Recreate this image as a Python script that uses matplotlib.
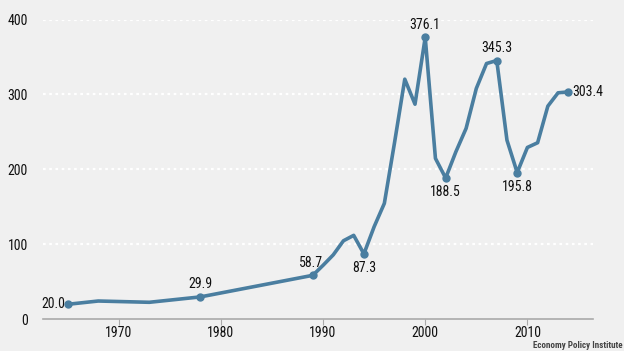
import matplotlib
matplotlib.use("Agg")
import matplotlib.pyplot as plt
from matplotlib import font_manager

years = [1965, 1968, 1973, 1978, 1989, 1990, 1991, 1992, 1993, 1994, 1995, 1996,
         1997, 1998, 1999, 2000, 2001, 2002, 2003, 2004, 2005, 2006, 2007, 2008,
         2009, 2010, 2011, 2012, 2013, 2014]
ratio = [20.0, 24.4, 22.7, 29.9, 58.7, 72.0, 86.0, 104.8, 112.0, 87.3, 123.5, 154.7,
         236.0, 320.4, 287.0, 376.1, 214.7, 188.5, 223.5, 254.7, 308.0, 341.3, 345.3, 239.0,
         195.8, 229.3, 235.6, 284.4, 302.2, 303.4]

label_years = [1965, 1978, 1989, 1994, 2000, 2002, 2007, 2009, 2014]
label_texts = ["20.0", "29.9", "58.7", "87.3", "376.1", "188.5", "345.3", "195.8", "303.4"]
label_pos = ["left", "above", "aboveleft", "below", "above", "below", "above", "below", "right"]

x_ticks = [1970, 1980, 1990, 2000, 2010]
y_ticks = [0, 100, 200, 300, 400]
source = "Economy Policy Institute"

names = {f.name for f in font_manager.fontManager.ttflist}
stretch = "normal"
fam = None
for cand in ["Liberation Sans Narrow", "Roboto Condensed", "Open Sans Condensed", "Noto Sans Condensed"]:
    if cand in names:
        fam = cand
        break
if fam is None:
    has_cond = any(f.name == "DejaVu Sans" and str(f.stretch) in ("condensed", "semi-condensed", "500", "400")
                   and "Condensed" in f.fname for f in font_manager.fontManager.ttflist)
    if has_cond:
        fam = "DejaVu Sans"
        stretch = "condensed"
    else:
        fam = "Roboto" if "Roboto" in names else "DejaVu Sans"
plt.rcParams["font.family"] = [fam, "DejaVu Sans"]
plt.rcParams["font.stretch"] = stretch

bg = "#f0f0f0"
line_c = "#4a7ea0"
txt_c = "#111111"
fs = 10

fig = plt.figure(figsize=(6.24, 3.51), dpi=100, facecolor=bg)
ax = fig.add_axes([0.069, 0.0903, 0.881, 0.8541], facecolor=bg)

ax.plot(years, ratio, color=line_c, lw=2.6, solid_joinstyle="round", zorder=3)
lv = [ratio[years.index(y)] for y in label_years]
ax.plot(label_years, lv, "o", color=line_c, ms=5, zorder=4)

for yr, v, t, p in zip(label_years, lv, label_texts, label_pos):
    kw = dict(textcoords="offset points", fontsize=fs, color=txt_c, annotation_clip=False)
    if p == "left":
        ax.annotate(t, (yr, v), xytext=(-2, 0), ha="right", va="center", **kw)
    elif p == "right":
        ax.annotate(t, (yr, v), xytext=(3, 0), ha="left", va="center", **kw)
    elif p == "above":
        ax.annotate(t, (yr, v), xytext=(0, 4), ha="center", va="bottom", **kw)
    elif p == "aboveleft":
        ax.annotate(t, (yr, v), xytext=(-1, 4), ha="center", va="bottom", **kw)
    else:
        ax.annotate(t, (yr, v), xytext=(0, -5), ha="center", va="top", **kw)

ax.set_xlim(1962.6, 2016.4)
ax.set_ylim(0, 400)
ax.set_yticks(y_ticks)
ax.set_xticks(x_ticks)
ax.set_yticklabels([str(v) for v in y_ticks])
ax.set_xticklabels([str(v) for v in x_ticks])
for v in y_ticks[1:]:
    ax.axhline(v, color="white", lw=1.6, ls=(0, (1.2, 1.6)), zorder=1)
for s in ["top", "right", "left"]:
    ax.spines[s].set_visible(False)
ax.spines["bottom"].set_color("#aaaaaa")
ax.spines["bottom"].set_linewidth(1.2)
ax.tick_params(axis="y", length=0, pad=11, labelsize=fs, labelcolor=txt_c)
ax.tick_params(axis="x", length=4, color="#aaaaaa", pad=1, labelsize=fs, labelcolor=txt_c)

fig.text(0.997, 0.003, source, ha="right", va="bottom", fontsize=6.5, color="#444444", fontweight="bold")

fig.savefig("out.png", dpi=100, facecolor=bg)
